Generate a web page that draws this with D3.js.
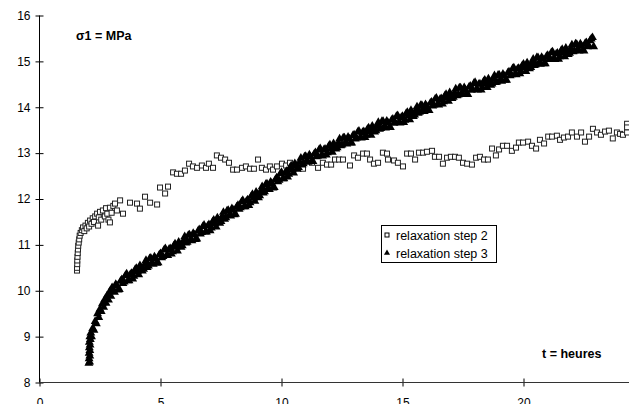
<!DOCTYPE html>
<html><head><meta charset="utf-8">
<script src="https://cdn.jsdelivr.net/npm/d3@7"></script>
<style>
html,body{margin:0;padding:0;background:#fff;overflow:hidden}
text{font-family:Arial,"Liberation Sans",sans-serif}
</style></head><body>
<svg id="c" width="629" height="404"></svg>
<script>
const xTicks = [0, 5, 10, 15, 20, 25];
const yTicks = [8, 9, 10, 11, 12, 13, 14, 15, 16];
const seriesNames = ["relaxation step 2", "relaxation step 3"];
const yLabel = "σ1 = MPa";
const xLabel = "t = heures";

// relaxation step 2 : [t (heures), σ1 (MPa)]
const step2 = [
[1.55,10.44],[1.55,10.5],[1.56,10.58],[1.56,10.66],[1.57,10.74],[1.58,10.82],[1.59,10.9],[1.6,10.98],
[1.62,11.05],[1.64,11.12],[1.66,11.2],[1.7,11.26],[1.75,11.32],[1.8,11.38],[1.85,11.3],[1.9,11.42],
[1.95,11.36],[2.0,11.48],[2.05,11.4],[2.09,11.53],[2.15,11.46],[2.2,11.58],[2.25,11.5],[2.3,11.62],
[2.38,11.68],[2.42,11.42],[2.45,11.6],[2.5,11.72],[2.55,11.55],[2.62,11.75],[2.7,11.62],[2.75,11.8],
[2.8,11.68],[2.85,11.55],[2.91,11.81],[2.91,11.49],[2.98,11.7],[3.05,11.85],[3.12,11.9],[3.2,11.75],
[3.33,11.97],[3.45,11.68],[3.74,11.92],[4.03,11.9],[4.15,11.79],[4.36,12.05],[4.57,11.92],[4.86,11.88],
[4.98,12.25],[5.19,12.12],[5.31,12.27],
[5.52,12.58],[5.68,12.55],[5.85,12.55],[6.01,12.62],[6.18,12.77],[6.34,12.71],[6.51,12.68],[6.71,12.73],
[6.88,12.68],[7.0,12.77],[7.17,12.68],[7.33,12.95],[7.5,12.9],[7.67,12.86],[7.83,12.79],[8.0,12.64],
[8.16,12.64],[8.37,12.68],[8.53,12.71],[8.7,12.66],[8.86,12.66],[9.03,12.86],[9.19,12.68],[9.36,12.64],
[9.52,12.71],[9.65,12.64],[9.81,12.71],[10.02,12.77],[10.19,12.73],[10.35,12.79],[10.52,12.7],[10.7,12.75],
[10.89,12.66],[11.26,12.79],[11.51,12.68],[11.71,12.79],[11.88,12.75],[12.05,12.75],[12.21,12.86],[12.38,12.86],
[12.54,12.86],[12.83,12.73],[13.0,12.95],[13.16,12.9],[13.37,12.99],[13.53,12.99],[13.66,12.86],[13.82,12.77],
[13.99,12.79],[14.19,13.01],[14.36,12.99],[14.4,12.86],[14.65,12.84],[14.81,12.79],[15.02,12.71],[15.19,12.99],
[15.35,12.99],[15.52,12.86],[15.68,13.01],[15.85,13.01],[16.01,13.03],[16.22,13.05],[16.34,12.92],[16.51,12.92],
[16.67,12.77],[16.84,12.9],[17.0,12.92],[17.17,12.92],[17.33,12.9],
[17.5,12.79],[17.67,12.77],[17.87,12.75],[18.04,12.9],[18.2,12.92],[18.37,12.86],[18.53,12.86],[18.7,13.1],
[18.86,12.95],[18.99,13.08],[19.15,13.16],[19.32,13.16],[19.52,13.05],[19.69,13.12],[19.81,13.23],[19.98,13.23],
[20.19,13.25],[20.35,13.16],[20.52,13.1],[20.68,13.29],[20.85,13.21],[21.02,13.36],[21.18,13.36],[21.38,13.38],
[21.51,13.29],[21.67,13.34],[21.84,13.36],[22.0,13.45],[22.21,13.36],[22.38,13.45],[22.54,13.25],[22.71,13.36],
[22.87,13.53],[23.04,13.45],[23.2,13.4],[23.37,13.47],[23.53,13.49],[23.69,13.32],[23.86,13.45],[23.99,13.42],
[24.11,13.4],[24.28,13.64],[24.28,13.56],[24.28,13.45]
];

// relaxation step 3 : [t (heures), σ1 (MPa)]
const step3 = [
[2.04,8.42],[2.07,8.45],[2.05,8.52],[2.08,8.58],[2.05,8.64],[2.08,8.7],[2.06,8.76],[2.09,8.82],[2.06,8.88],
[2.1,8.94],[2.08,9.0],[2.12,9.08],[2.15,9.0],[2.2,9.18],[2.25,9.14],[2.3,9.33],[2.35,9.28],[2.4,9.5],
[2.45,9.42],[2.5,9.6],[2.55,9.55],[2.6,9.72],[2.65,9.64],[2.7,9.81],[2.75,9.73],[2.8,9.9],[2.85,9.8],
[2.9,9.98],[2.95,9.88],[3.0,10.07],
[3.1,9.97],[3.2,10.11],[3.3,10.03],[3.4,10.24],[3.5,10.19],[3.6,10.37],[3.7,10.22],[3.8,10.38],[3.9,10.32],
[4.0,10.49],[4.1,10.35],[4.2,10.5],[4.3,10.47],[4.4,10.66],[4.5,10.54],[4.6,10.71],[4.7,10.58],[4.8,10.7],
[4.9,10.61],[5.0,10.81],[5.1,10.75],[5.2,10.92],[5.3,10.77],[5.4,10.92],[5.5,10.85],[5.6,11.02],[5.7,10.87],
[5.8,11.01],[5.9,10.98],[6.0,11.18],[6.1,11.06],[6.2,11.22],[6.3,11.09],[6.4,11.22],[6.5,11.13],[6.6,11.33],
[6.7,11.27],[6.8,11.43],[6.9,11.28],[7.0,11.44],[7.1,11.37],[7.2,11.54],[7.3,11.39],[7.4,11.54],[7.5,11.51],
[7.6,11.71],[7.7,11.59],[7.8,11.75],[7.9,11.63],[8.0,11.76],[8.1,11.67],[8.2,11.86],[8.3,11.81],[8.4,11.97],
[8.5,11.83],[8.6,11.98],[8.7,11.92],[8.8,12.1],[8.9,11.95],[9.0,12.1],[9.1,12.07],[9.2,12.27],[9.3,12.16],
[9.4,12.33],[9.5,12.21],[9.6,12.34],[9.7,12.25],[9.8,12.46],[9.9,12.41],[10.0,12.58],[10.1,12.44],[10.2,12.6],
[10.3,12.54],[10.4,12.72],[10.5,12.57],[10.6,12.72],[10.7,12.69],[10.8,12.89],[10.9,12.77],[11.0,12.93],
[11.1,12.8],[11.2,12.92],[11.3,12.82],[11.4,13.01],[11.5,12.94],[11.6,13.1],[11.7,12.94],[11.8,13.09],
[11.9,13.01],[12.0,13.18],[12.1,13.02],[12.2,13.16],[12.3,13.12],[12.4,13.31],[12.5,13.18],[12.6,13.33],
[12.7,13.2],[12.8,13.31],[12.9,13.22],[13.0,13.4],[13.1,13.33],[13.2,13.48],[13.3,13.33],[13.4,13.47],
[13.5,13.39],[13.6,13.55],[13.7,13.39],[13.8,13.53],[13.9,13.49],[14.0,13.67],[14.1,13.54],[14.2,13.69],
[14.3,13.55],[14.4,13.66],[14.5,13.56],[14.6,13.74],[14.7,13.67],[14.8,13.82],[14.9,13.66],[15.0,13.8],
[15.1,13.72],[15.2,13.89],[15.3,13.73],[15.4,13.87],[15.5,13.83],[15.6,14.01],[15.7,13.89],[15.8,14.04],
[15.9,13.91],[16.0,14.02],[16.1,13.93],[16.2,14.11],[16.3,14.05],[16.4,14.2],[16.5,14.05],[16.6,14.19],
[16.7,14.12],[16.8,14.28],[16.9,14.13],[17.0,14.26],[17.1,14.22],[17.2,14.4],[17.3,14.27],[17.4,14.42],
[17.5,14.28],[17.6,14.38],[17.7,14.28],[17.8,14.46],[17.9,14.39],[18.0,14.54],[18.1,14.38],[18.2,14.51],
[18.3,14.43],[18.4,14.59],[18.5,14.43],[18.6,14.55],[18.7,14.51],[18.8,14.69],[18.9,14.55],[19.0,14.7],
[19.1,14.57],[19.2,14.68],[19.3,14.59],[19.4,14.77],[19.5,14.71],[19.6,14.86],[19.7,14.71],[19.8,14.85],
[19.9,14.78],[20.0,14.94],[20.1,14.78],[20.2,14.91],[20.3,14.87],[20.4,15.05],[20.5,14.93],[20.6,15.08],
[20.7,14.94],[20.8,15.05],[20.9,14.95],[21.0,15.13],[21.1,15.06],[21.2,15.21],[21.3,15.04],[21.4,15.18],
[21.5,15.1],[21.6,15.26],[21.7,15.1],[21.8,15.22],[21.9,15.18],[22.0,15.36],[22.1,15.23],[22.2,15.37],
[22.3,15.23],[22.4,15.34],[22.5,15.23],[22.6,15.41],[22.7,15.34],[22.75,15.45],[22.8,15.49],[22.85,15.52],
[22.9,15.32],
[3.05,10.0],[3.15,10.14],[3.25,10.02],[3.35,10.21],[3.45,10.16],[3.55,10.33],[3.65,10.22],[3.75,10.35],
[3.85,10.26],[3.95,10.46],[4.05,10.42],[4.15,10.55],[4.25,10.43],[4.35,10.58],[4.45,10.51],[4.55,10.7],
[4.65,10.61],[4.75,10.74],[4.85,10.6],[4.95,10.78],[5.05,10.72],[5.15,10.89],[5.25,10.77],[5.35,10.9],
[5.45,10.8],[5.55,10.98],[5.65,10.95],[5.75,11.06],[5.85,10.95],[5.95,11.09],[6.05,11.04],[6.15,11.21],
[6.25,11.12],[6.35,11.25],[6.45,11.12],[6.55,11.3],[6.65,11.24],[6.75,11.4],[6.85,11.28],[6.95,11.41],
[7.05,11.31],[7.15,11.5],[7.25,11.46],[7.35,11.59],[7.45,11.47],[7.55,11.62],[7.65,11.56],[7.75,11.74],
[7.85,11.66],[7.95,11.79],[8.05,11.66],[8.15,11.83],[8.25,11.78],[8.35,11.94],[8.45,11.83],[8.55,11.95],
[8.65,11.86],[8.75,12.06],[8.85,12.02],[8.95,12.15],[9.05,12.03],[9.15,12.18],[9.25,12.13],[9.35,12.32],
[9.45,12.24],[9.55,12.37],[9.65,12.24],[9.75,12.42],[9.85,12.38],[9.95,12.55],[10.05,12.44],[10.15,12.57],
[10.25,12.48],[10.35,12.68],[10.45,12.64],[10.55,12.77],[10.65,12.65],[10.75,12.8],[10.85,12.74],[10.95,12.92],
[11.05,12.84],[11.15,12.96],[11.25,12.82],[11.35,12.98],[11.45,12.92],[11.55,13.07],[11.65,12.95],[11.75,13.07],
[11.85,12.96],[11.95,13.15],[12.05,13.1],[12.15,13.21],[12.25,13.09],[12.35,13.22],[12.45,13.16],[12.55,13.33],
[12.65,13.24],[12.75,13.35],[12.85,13.22],[12.95,13.38],[13.05,13.31],[13.15,13.46],[13.25,13.34],[13.35,13.45],
[13.45,13.34],[13.55,13.52],[13.65,13.47],[13.75,13.59],[13.85,13.46],[13.95,13.59],[14.05,13.52],[14.15,13.69],
[14.25,13.59],[14.35,13.7],[14.45,13.56],[14.55,13.72],[14.65,13.65],[14.75,13.8],[14.85,13.67],[14.95,13.78],
[15.05,13.67],[15.15,13.86],[15.25,13.81],[15.35,13.93],[15.45,13.8],[15.55,13.93],[15.65,13.87],[15.75,14.04],
[15.85,13.95],[15.95,14.06],[16.05,13.93],[16.15,14.09],[16.25,14.03],[16.35,14.18],[16.45,14.06],[16.55,14.17],
[16.65,14.07],[16.75,14.25],[16.85,14.21],[16.95,14.32],[17.05,14.19],[17.15,14.32],[17.25,14.25],[17.35,14.42],
[17.45,14.32],[17.55,14.43],[17.65,14.28],[17.75,14.44],[17.85,14.37],[17.95,14.52],[18.05,14.39],[18.15,14.5],
[18.25,14.38],[18.35,14.56],[18.45,14.51],[18.55,14.62],[18.65,14.48],[18.75,14.61],[18.85,14.54],[18.95,14.7],
[19.05,14.61],[19.15,14.72],[19.25,14.59],[19.35,14.75],[19.45,14.69],[19.55,14.84],[19.65,14.72],[19.75,14.83],
[19.85,14.73],[19.95,14.91],[20.05,14.86],[20.15,14.97],[20.25,14.84],[20.35,14.97],[20.45,14.91],[20.55,15.08],
[20.65,14.98],[20.75,15.09],[20.85,14.95],[20.95,15.11],[21.05,15.04],[21.15,15.19],[21.25,15.06],[21.35,15.16],
[21.45,15.05],[21.55,15.23],[21.65,15.18],[21.75,15.29],[21.85,15.15],[21.95,15.28],[22.05,15.21],[22.15,15.38],
[22.25,15.27],[22.35,15.38],[22.45,15.24],[22.55,15.39],[22.65,15.32]
];

const svg = d3.select("#c");
const x = d3.scaleLinear().domain([0, 25]).range([39.5, 644.5]);
const y = d3.scaleLinear().domain([8, 16]).range([382.5, 15.5]);

// y axis
const yAxis = svg.append("g").attr("transform", "translate(39.5,0)")
  .call(d3.axisLeft(y).tickValues(yTicks).tickSize(4).tickPadding(5).tickFormat(d3.format("d")));
yAxis.select(".domain").remove();
yAxis.append("line").attr("x1",0).attr("x2",0).attr("y1",y(16)).attr("y2",y(8)).attr("stroke","#000");
yAxis.selectAll(".tick line").attr("x1", 4).attr("x2", -4).attr("stroke","#000");
yAxis.selectAll(".tick text").attr("font-size", 12).attr("fill","#000")
  .attr("font-family","Arial, 'Liberation Sans', sans-serif");

// x axis
const xAxis = svg.append("g").attr("transform", "translate(0,382.5)")
  .call(d3.axisBottom(x).tickValues(xTicks).tickSize(4).tickPadding(12).tickFormat(d3.format("d")));
xAxis.select(".domain").remove();
xAxis.append("line").attr("x1",39.5).attr("x2",644.5).attr("y1",0).attr("y2",0).attr("stroke","#333");
xAxis.selectAll(".tick line").attr("y1", -4).attr("y2", 4).attr("stroke","#000");
xAxis.selectAll(".tick text").attr("font-size", 12).attr("fill","#000")
  .attr("font-family","Arial, 'Liberation Sans', sans-serif");

// series 2 squares
const sq = 5;
svg.append("g").selectAll("rect").data(step2).join("rect")
  .attr("x", d => x(d[0]) - sq/2).attr("y", d => y(d[1]) - sq/2)
  .attr("width", sq).attr("height", sq)
  .attr("fill", "#fff").attr("stroke", "#222").attr("stroke-width", 1);

// series 3 triangles
const tri = d3.symbol().type(d3.symbolTriangle).size(34);
svg.append("g").selectAll("path").data(step3).join("path")
  .attr("d", tri)
  .attr("transform", d => `translate(${x(d[0])},${y(d[1])})`)
  .attr("fill", "#000");

// labels
svg.append("text").attr("x", 76).attr("y", 40).attr("font-size", 12.5).attr("font-weight","bold").text(yLabel);
svg.append("text").attr("x", 542).attr("y", 358).attr("font-size", 12.5).attr("font-weight","bold").text(xLabel);

// legend
const lg = svg.append("g");
lg.append("rect").attr("x", 381.5).attr("y", 225.5).attr("width", 115).attr("height", 37)
  .attr("fill","#fff").attr("stroke","#000");
lg.append("rect").attr("x", 385).attr("y", 233).attr("width", 4).attr("height", 4)
  .attr("fill","#fff").attr("stroke","#000");
lg.append("path").attr("d", d3.symbol().type(d3.symbolTriangle).size(16))
  .attr("transform","translate(387,253)").attr("fill","#000");
lg.selectAll("text.l").data(seriesNames).join("text").attr("class","l")
  .attr("x", 396).attr("y", (d,i) => 240 + i*18).attr("font-size", 12.5).attr("fill","#000").text(d => d);
</script>
</body></html>
